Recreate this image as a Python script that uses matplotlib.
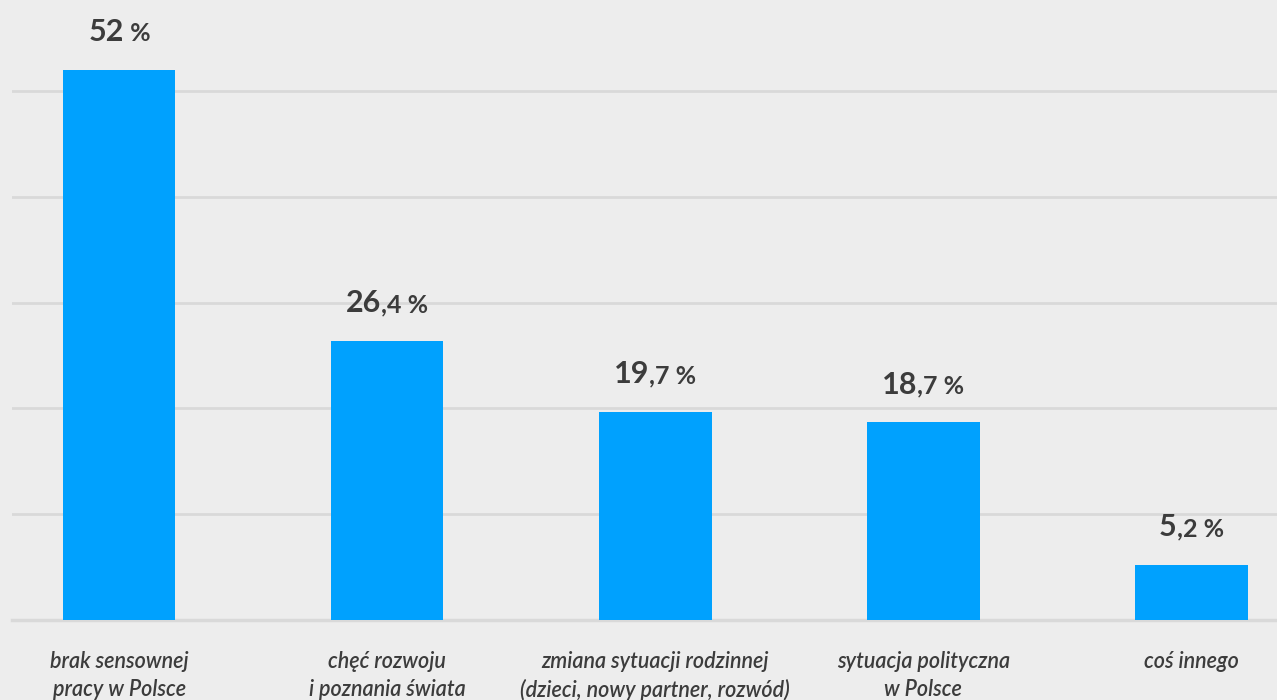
import matplotlib.pyplot as plt
from matplotlib.offsetbox import TextArea, HPacker, AnnotationBbox

categories = ["brak sensownej\npracy w Polsce",
              "chęć rozwoju\ni poznania świata",
              "zmiana sytuacji rodzinnej\n(dzieci, nowy partner, rozwód)",
              "sytuacja polityczna\nw Polsce",
              "coś innego"]
values = [52.0, 26.4, 19.7, 18.7, 5.2]
# the value labels split into a big and a small part, as in the picture
label_big = ["52", "26", "19", "18", "5"]
label_small = [" %", ",4 %", ",7 %", ",7 %", ",2 %"]
grid_ticks = [10, 20, 30, 40, 50]

bg = "#ededed"
blue = "#00a1fe"
ink = "#3c3c3c"

plt.rcParams['font.family'] = ['Lato', 'DejaVu Sans']

fig = plt.figure(figsize=(12.77, 7.0), dpi=100, facecolor=bg)
ax = fig.add_axes([12 / 1277, 80 / 700, 1 - 12 / 1277, 620 / 700])
ax.set_facecolor(bg)

x = list(range(len(values)))
ax.bar(x, values, width=0.42, color=blue, zorder=3)

ax.set_xlim(-0.4, 4.32)
ax.set_ylim(0, 58.6)
ax.set_yticks(grid_ticks)
ax.yaxis.grid(True, color="#d9d9d9", linewidth=2, zorder=0)
ax.tick_params(axis="y", length=0, labelleft=False)
ax.axhline(0, color="#d9d9d9", linewidth=2.5, zorder=2, clip_on=False)

ax.set_xticks(x)
ax.set_xticklabels(categories, fontsize=15.5, style="italic",
                   weight="semibold", color=ink, linespacing=1.38)
ax.tick_params(axis="x", length=0, pad=22.5)

for s in ax.spines.values():
    s.set_visible(False)

for xi, v, big, small in zip(x, values, label_big, label_small):
    t1 = TextArea(big, textprops=dict(fontsize=22, weight="bold", color=ink))
    t2 = TextArea(small, textprops=dict(fontsize=18, weight="bold",
                                        color=ink))
    box = HPacker(children=[t1, t2], align="baseline", pad=0, sep=0)
    ab = AnnotationBbox(box, (xi, v), xybox=(0, 17), xycoords="data",
                        boxcoords="offset points", box_alignment=(0.5, 0),
                        frameon=False, annotation_clip=False)
    ax.add_artist(ab)

fig.savefig("out.png", dpi=100, facecolor=bg)
